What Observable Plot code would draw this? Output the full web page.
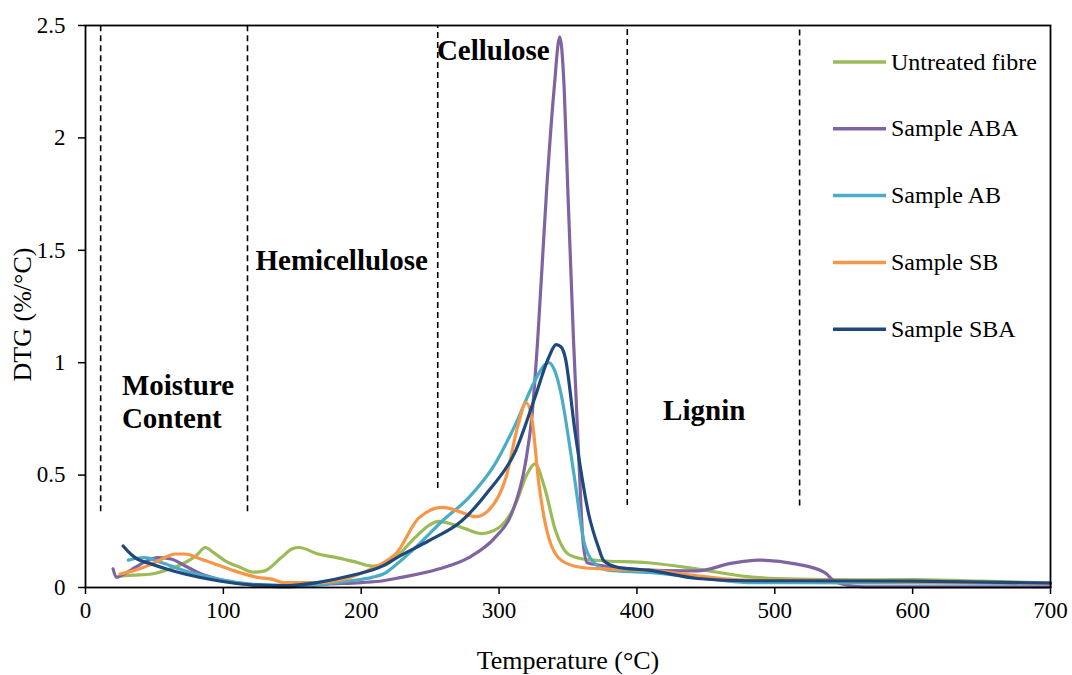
<!DOCTYPE html>
<html>
<head>
<meta charset="utf-8">
<script src="https://cdn.jsdelivr.net/npm/d3@7"></script>
<script src="https://cdn.jsdelivr.net/npm/@observablehq/plot@0.6"></script>
<style>
  html, body { margin: 0; padding: 0; background: #fff; }
  #chart { position: relative; width: 1072px; height: 675px; }
</style>
</head>
<body>
<div id="chart"></div>
<script>
const seriesNames = ["Untreated fibre", "Sample ABA", "Sample AB", "Sample SB", "Sample SBA"];
const seriesColors = ["#9BBB59", "#8064A2", "#4BACC6", "#F79646", "#1F497D"];

const untreatedT = [26,35,48,60,72,80,87,93,101,112,122,130,142,150,155,168,183,195,208,216,225,239,250,256,273,287,300,312,320,326,333,341,350,360,372,408,444,480,516,560,600,650,700];
const untreatedV = [0.052,0.055,0.06,0.08,0.11,0.14,0.178,0.155,0.12,0.09,0.068,0.074,0.133,0.172,0.178,0.15,0.132,0.115,0.095,0.097,0.133,0.222,0.28,0.294,0.267,0.24,0.267,0.371,0.5,0.55,0.445,0.252,0.149,0.128,0.12,0.11,0.082,0.048,0.037,0.034,0.035,0.028,0.02];

const abaT = [20,22.5,28,36,45,52,62,72,84,96,108,125,144,176,200,216,225,256,278,297,309,319,324,328,334.6,340,344,347.2,349.8,354,358,361,364,372,396,420,444,468,488,516,536,545,565,600,700];
const abaV = [0.083,0.045,0.06,0.089,0.12,0.133,0.127,0.097,0.06,0.038,0.022,0.01,0.003,0.015,0.022,0.03,0.04,0.082,0.133,0.222,0.327,0.549,0.771,1.1,1.78,2.224,2.45,2.224,1.78,1.1,0.55,0.2,0.11,0.1,0.083,0.075,0.074,0.107,0.122,0.104,0.067,0.022,0.003,0.003,0.003];

const abT = [31,37,43,55,72,96,120,156,192,208,216,225,242,259,278,297,312,326,333,336,340,345.5,350,355,362,370,379,408,444,480,516,600,700];
const abV = [0.122,0.13,0.133,0.111,0.074,0.037,0.015,0.008,0.03,0.045,0.06,0.1,0.193,0.297,0.4,0.549,0.727,0.92,0.99,1.0,0.97,0.845,0.68,0.475,0.193,0.104,0.077,0.067,0.045,0.022,0.022,0.02,0.018];

const sbT = [25,35,48,58,65,72,84,96,108,125,135,144,168,192,208,216,225,242,259,273,283,292,305,314,319.5,324,328.6,336,345.5,360,379,408,444,480,516,600,700];
const sbV = [0.06,0.075,0.104,0.135,0.149,0.149,0.126,0.1,0.074,0.045,0.037,0.022,0.022,0.045,0.085,0.11,0.149,0.311,0.356,0.334,0.315,0.341,0.489,0.727,0.823,0.742,0.475,0.222,0.119,0.089,0.082,0.077,0.052,0.033,0.033,0.025,0.02];

const sbaT = [27.3,31,36,48,60,72,96,120,144,168,192,216,225,249,273,292.5,312,326,336,341.4,345,348,355,365,372,376,386.5,408,444,480,516,600,700];
const sbaV = [0.185,0.16,0.133,0.104,0.08,0.06,0.03,0.012,0.008,0.022,0.052,0.097,0.13,0.208,0.297,0.43,0.608,0.845,1.023,1.08,1.07,1.023,0.697,0.327,0.18,0.119,0.089,0.077,0.04,0.03,0.03,0.028,0.02];

const regionLineT = [11, 117.5, 255.5, 393, 518];
const regionLineBottom = [0.337, 0.337, 0.44, 0.365, 0.363];
const regionLineTop = [2.5, 2.5, 2.5, 2.5, 2.5];

const regionLabels = ["Moisture", "Content", "Hemicellulose", "Cellulose", "Lignin"];
const regionLabelT = [26.4, 26.4, 123.3, 254.9, 419];
const regionLabelV = [0.897, 0.752, 1.453, 2.39, 0.786];

const xTicks = [0, 100, 200, 300, 400, 500, 600, 700];
const yTicks = [0, 0.5, 1, 1.5, 2, 2.5];

const allT = [untreatedT, abaT, abT, sbT, sbaT];
const allV = [untreatedV, abaV, abV, sbV, sbaV];
const rows = [];
seriesNames.forEach((name, i) => {
  allT[i].forEach((t, j) => rows.push({series: name, T: t, V: allV[i][j]}));
});
const regionLines = regionLineT.map((t, i) => ({T: t, y1: regionLineBottom[i], y2: regionLineTop[i]}));
const labels = regionLabels.map((s, i) => ({text: s, T: regionLabelT[i], V: regionLabelV[i]}));

const font = "'Liberation Serif', 'Times New Roman', serif";

const plot = Plot.plot({
  width: 1072,
  height: 675,
  marginLeft: 85,
  marginRight: 22,
  marginTop: 25,
  marginBottom: 88,
  style: {fontFamily: font, fontSize: "23px", color: "#000", background: "#fff"},
  x: {domain: [0, 700], ticks: xTicks, label: null},
  y: {domain: [0, 2.5], ticks: yTicks, label: null},
  color: {domain: seriesNames, range: seriesColors},
  marks: [
    Plot.axisX({ticks: xTicks, tickSize: 7, tickPadding: 7, label: null, fontSize: 23, strokeWidth: 1.5}),
    Plot.axisY({ticks: yTicks, tickSize: 7, tickPadding: 13, label: null, fontSize: 23, strokeWidth: 1.5, tickFormat: d => String(d)}),
    Plot.ruleX(regionLines, {x: "T", y1: "y1", y2: "y2", stroke: "#000", strokeWidth: 1.6, strokeDasharray: "6,4"}),
    Plot.line(rows, {x: "T", y: "V", z: "series", stroke: "series", strokeWidth: 3.2, curve: "monotone-x"}),
    Plot.text(labels, {x: "T", y: "V", text: "text", textAnchor: "start", fontWeight: "bold", fontSize: 29, fill: "#000"}),
    Plot.text(["DTG (%/°C)"], {frameAnchor: "left", textAnchor: "middle", dx: -63, dy: 8, rotate: -90, fontSize: 26, fill: "#000"}),
    Plot.text(["Temperature (°C)"], {frameAnchor: "bottom", textAnchor: "middle", dy: 81, fontSize: 26, fill: "#000"}),
    Plot.frame({stroke: "#000", strokeWidth: 1.8})
  ]
});

document.getElementById("chart").appendChild(plot);

// Legend inside the plot area (top right)
const svg = d3.select(plot);
const lg = svg.append("g").attr("font-family", font).attr("font-size", 24).attr("text-anchor", "start");
seriesNames.forEach((name, i) => {
  const cy = 62 + i * 66.8;
  lg.append("line").attr("x1", 833).attr("x2", 886).attr("y1", cy).attr("y2", cy)
    .attr("stroke", seriesColors[i]).attr("stroke-width", 3.5);
  lg.append("text").attr("x", 891).attr("y", cy).attr("dy", "0.32em").attr("fill", "#000")
    .attr("text-anchor", "start").text(name);
});
</script>
</body>
</html>
